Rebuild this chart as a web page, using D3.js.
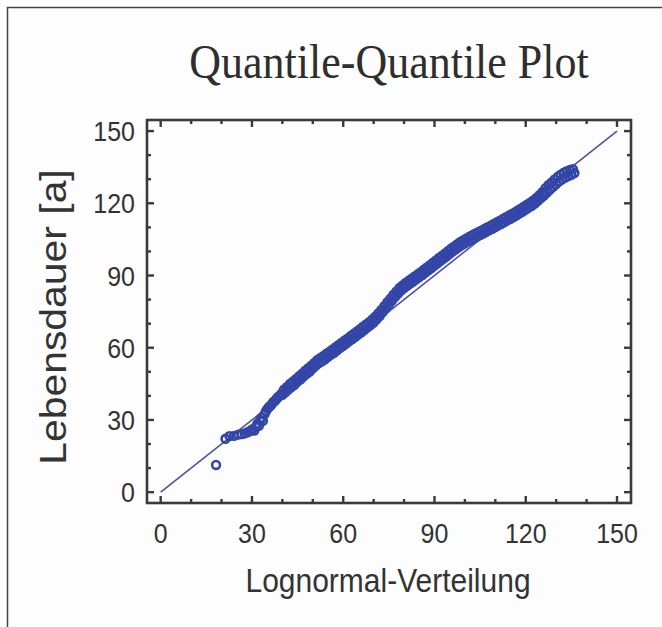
<!DOCTYPE html>
<html>
<head>
    <meta charset="utf-8">
    <title>Quantile-Quantile Plot</title>
    <style>
        body { margin: 0; background: #fdfdfd; }
        svg { display: block; }
    </style>
</head>
<body>
    <script src="https://cdnjs.cloudflare.com/ajax/libs/d3/7.8.5/d3.min.js"></script>
    <script>

var theoretical = [
    18.2, 21.3, 22.6, 24.1, 25.5, 26.6, 27.6, 28.6, 29.5, 30.2,
    30.8, 31.3, 31.8, 32.3, 32.7, 33.2, 33.6, 34.1, 34.6, 35.1,
    35.6, 36.1, 36.6, 37.1, 37.6, 38.1, 38.6, 39.1, 39.6,
    40, 40.5, 41, 41.5, 42, 42.5, 43, 43.5, 44, 44.5,
    45, 45.5, 46, 46.5, 47, 47.5, 48, 48.5, 49, 49.5,
    50, 50.5, 51, 51.5, 52, 52.5, 53, 53.5, 54, 54.5,
    55, 55.5, 56, 56.5, 57, 57.5, 58, 58.5, 59, 59.5,
    60, 60.5, 61, 61.5, 62, 62.5, 63, 63.5, 64, 64.5,
    65, 65.5, 66, 66.5, 67, 67.5, 68, 68.5, 69, 69.5,
    70, 70.5, 71, 71.5, 72, 72.5, 73, 73.5, 74, 74.5,
    75, 75.5, 76, 76.5, 77, 77.5, 78, 78.5, 79, 79.5,
    80, 80.5, 81, 81.5, 82, 82.5, 83, 83.5, 84, 84.5,
    85, 85.5, 86, 86.5, 87, 87.5, 88, 88.5, 89, 89.5,
    90, 90.5, 91, 91.5, 92, 92.5, 93, 93.5, 94, 94.5,
    95, 95.5, 96, 96.5, 97, 97.5, 98, 98.5, 99, 99.5,
    100, 100.5, 101, 101.5, 102, 102.5, 103, 103.5, 104, 104.5,
    105, 105.5, 106, 106.5, 107, 107.5, 108, 108.5, 109, 109.5,
    110, 110.5, 111, 111.5, 112, 112.5, 113, 113.5, 114, 114.5,
    115, 115.5, 116, 116.5, 117, 117.5, 118, 118.5, 119, 119.5,
    120, 120.5, 121, 121.5, 122, 122.5, 123, 123.5, 124, 124.5,
    125, 125.5, 126, 126.5, 127, 127.5, 128, 128.5, 129, 129.5,
    130, 130.5, 131, 131.5, 132, 132.5, 133, 133.5, 134, 134.5,
    135, 135.5, 136
];

var observed = [
    11.3, 22.2, 23.3, 23.4, 23.9, 24.1, 24.4, 24.9, 25.5, 26.2,
    25.6, 27.1, 28.4, 27.6, 29.8, 30.9, 29.6, 32.3, 33.6, 34.6,
    35.4, 35.9, 36.7, 37.6, 37.9, 38.8, 39.6, 39.9, 40.8,
    40.4, 42.6, 41.5, 43.7, 42.6, 45.0, 43.7, 46.0, 44.6, 47.0,
    45.9, 48.2, 46.9, 49.2, 48.1, 50.5, 49.2, 51.5, 50.1, 52.5,
    51.4, 53.7, 52.6, 54.9, 53.6, 55.8, 54.4, 56.6, 55.2, 57.5,
    56.2, 58.4, 57.2, 59.3, 57.9, 60.2, 58.9, 61.2, 60.0, 62.1,
    60.8, 63.0, 61.7, 63.9, 62.8, 64.9, 63.6, 65.8, 64.5, 66.8,
    65.6, 67.7, 66.4, 68.7, 67.4, 69.7, 68.5, 70.6, 69.4, 71.7,
    70.5, 72.9, 71.8, 74.2, 73.2, 75.7, 74.8, 77.3, 76.4, 78.9,
    77.9, 80.4, 79.5, 82.0, 81.0, 83.4, 82.4, 84.8, 83.7, 85.9,
    84.8, 86.9, 85.7, 87.8, 86.6, 88.7, 87.5, 89.6, 88.4, 90.5,
    89.3, 91.4, 90.2, 92.4, 91.2, 93.4, 92.2, 94.3, 93.1, 95.3,
    94.1, 96.3, 95.1, 97.3, 96.1, 98.2, 97.0, 99.2, 98.0, 100.2,
    99.0, 101.2, 100.0, 102.1, 100.9, 103.0, 101.8, 103.9, 102.6, 104.7,
    103.4, 105.4, 104.1, 106.1, 104.8, 106.8, 105.5, 107.5, 106.2, 108.1,
    106.8, 108.7, 107.4, 109.4, 108.1, 110.1, 108.8, 110.7, 109.4, 111.4,
    110.1, 112.1, 110.8, 112.8, 111.5, 113.5, 112.2, 114.2, 112.9, 114.9,
    113.6, 115.6, 114.3, 116.3, 115.0, 117.1, 115.8, 117.9, 116.6, 118.7,
    117.4, 119.5, 118.2, 120.3, 119.0, 121.2, 119.9, 122.2, 121.0, 123.4,
    122.2, 124.7, 123.2, 126.3, 124.5, 127.6, 125.7, 128.7, 126.8, 129.9,
    128.0, 131.0, 129.1, 131.9, 130.0, 132.7, 130.7, 133.3, 131.3, 133.8,
    131.8, 134.2, 132.6
];

var refLine = [0, 150];
var majorTicks = [0, 30, 60, 90, 120, 150];
var minorTicks = [10, 20, 40, 50, 70, 80, 100, 110, 130, 140];

var titleText = "Quantile-Quantile Plot";
var xLabel = "Lognormal-Verteilung";
var yLabel = "Lebensdauer [a]";

var config = {
    width: 662,
    height: 627,
    frame: { left: 147, right: 631, top: 120, bottom: 503 },
    domain: [-4.5, 154.6],
    pointColor: "#3346a8",
    lineColor: "#4d519e",
    axisColor: "#3a3a3a",
    stretch: 1.12   // the picture is a bit taller than wide
};

var points = theoretical.map(function (t, i) {
    return { x: t, y: observed[i] };
});

var svg = d3.select("body").append("svg")
    .attr("width", config.width)
    .attr("height", config.height);

// outer border (only top and left edge are visible)
svg.append("path")
    .attr("d", "M7.5," + config.height + "V7.5H" + config.width)
    .attr("fill", "none")
    .attr("stroke", "#444")
    .attr("stroke-width", 1.5);

var f = config.frame;
var x = d3.scaleLinear().domain(config.domain).range([f.left, f.right]);
var y = d3.scaleLinear().domain(config.domain).range([f.bottom, f.top]);

svg.append("text")
    .attr("transform", "translate(389,78) scale(1," + config.stretch + ")")
    .attr("text-anchor", "middle")
    .style("font-family", "'Liberation Serif', 'Times New Roman', serif")
    .style("font-size", "44px")
    .attr("fill", "#2e2e2e")
    .text(titleText);

// reference line y = x
svg.append("line")
    .attr("x1", x(refLine[0])).attr("y1", y(refLine[0]))
    .attr("x2", x(refLine[1])).attr("y2", y(refLine[1]))
    .attr("stroke", config.lineColor)
    .attr("stroke-width", 1.6);

svg.append("g").selectAll("circle")
    .data(points)
    .enter().append("circle")
    .attr("cx", function (d) { return x(d.x); })
    .attr("cy", function (d) { return y(d.y); })
    .attr("r", 3.9)
    .attr("fill", "none")
    .attr("stroke", config.pointColor)
    .attr("stroke-width", 2.6);

// frame with inward ticks on all four sides
var axes = svg.append("g");
axes.append("rect")
    .attr("x", f.left).attr("y", f.top)
    .attr("width", f.right - f.left).attr("height", f.bottom - f.top)
    .attr("fill", "none")
    .attr("stroke", config.axisColor)
    .attr("stroke-width", 2.6);

var ticks = majorTicks.map(function (v) { return { v: v, len: 7 }; })
    .concat(minorTicks.map(function (v) { return { v: v, len: 4 }; }));

ticks.forEach(function (t) {
    axes.append("line")
        .attr("x1", x(t.v)).attr("x2", x(t.v))
        .attr("y1", f.bottom).attr("y2", f.bottom - t.len);
    axes.append("line")
        .attr("x1", x(t.v)).attr("x2", x(t.v))
        .attr("y1", f.top).attr("y2", f.top + t.len);
    axes.append("line")
        .attr("y1", y(t.v)).attr("y2", y(t.v))
        .attr("x1", f.left).attr("x2", f.left + t.len);
    axes.append("line")
        .attr("y1", y(t.v)).attr("y2", y(t.v))
        .attr("x1", f.right).attr("x2", f.right - t.len);
});
axes.selectAll("line")
    .attr("stroke", config.axisColor)
    .attr("stroke-width", 2.4);

var tickFont = "'Liberation Sans', Arial, sans-serif";

svg.append("g").selectAll("text")
    .data(majorTicks)
    .enter().append("text")
    .attr("transform", function (d) {
        return "translate(" + x(d) + ",543) scale(1," + config.stretch + ")";
    })
    .attr("text-anchor", "middle")
    .style("font-family", tickFont)
    .style("font-size", "25px")
    .attr("fill", "#333")
    .text(function (d) { return d; });

svg.append("g").selectAll("text")
    .data(majorTicks)
    .enter().append("text")
    .attr("transform", function (d) {
        return "translate(135," + (y(d) + 10) + ") scale(1," + config.stretch + ")";
    })
    .attr("text-anchor", "end")
    .style("font-family", tickFont)
    .style("font-size", "25px")
    .attr("fill", "#333")
    .text(function (d) { return d; });

svg.append("text")
    .attr("transform", "translate(388,592) scale(1," + config.stretch + ")")
    .attr("text-anchor", "middle")
    .style("font-family", tickFont)
    .style("font-size", "30px")
    .attr("fill", "#333")
    .text(xLabel);

svg.append("text")
    .attr("transform", "translate(66,317) rotate(-90) scale(" + config.stretch + ",1)")
    .attr("text-anchor", "middle")
    .style("font-family", tickFont)
    .style("font-size", "36.5px")
    .attr("fill", "#333")
    .text(yLabel);

    </script>
</body>
</html>
